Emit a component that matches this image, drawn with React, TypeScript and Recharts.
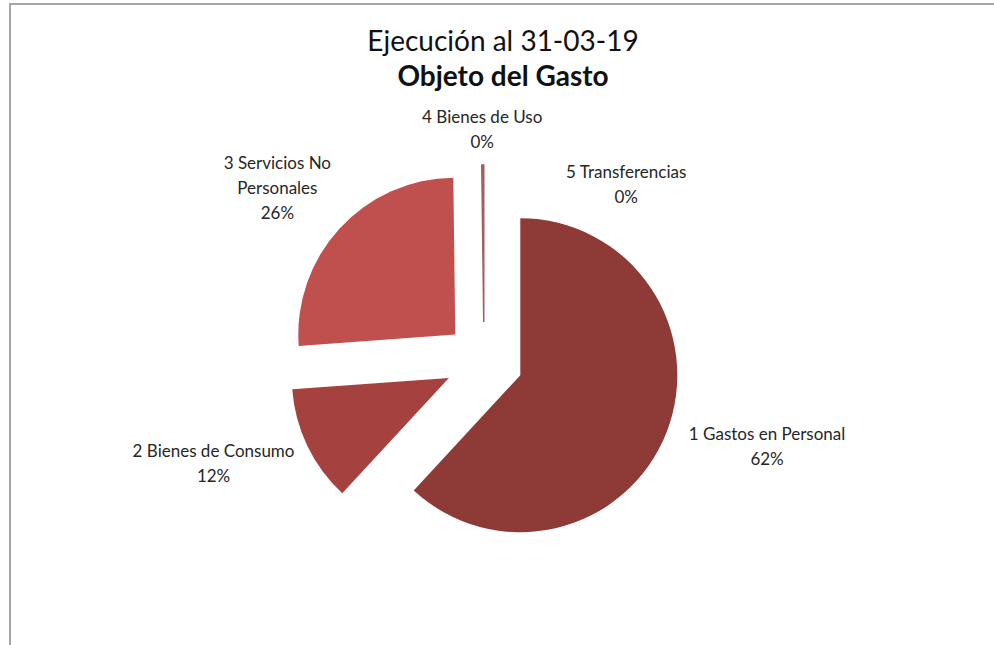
import { PieChart, Pie, Cell } from "recharts"

const names = [
  "1 Gastos en Personal",
  "2 Bienes de Consumo",
  "3 Servicios No Personales",
  "4 Bienes de Uso",
  "5 Transferencias",
]
const labelLines = [
  ["1 Gastos en Personal"],
  ["2 Bienes de Consumo"],
  ["3 Servicios No", "Personales"],
  ["4 Bienes de Uso"],
  ["5 Transferencias"],
]
const values = [62, 12, 26, 0.2, 0]
const colors = ["#8E3A37", "#A5423F", "#C0504D", "#A0605D", "#C0504D"]

const data = names.map((name, i) => ({ name, value: values[i] }))

const RAD = Math.PI / 180
const CX = 484
const CY = 361
const R = 157
const EXPLODE = 39
const FONT = "Lato, 'Noto Sans', sans-serif"

// slice offsets for the exploded look, from each slice's mid angle
const total = values.reduce((a, b) => a + b, 0)
let acc = 0
const offsets = values.map((v) => {
  const mid = 90 - ((acc + v / 2) / total) * 360
  acc += v
  return { dx: EXPLODE * Math.cos(mid * RAD), dy: -EXPLODE * Math.sin(mid * RAD) }
})

function renderLabel(props: any) {
  const { cx, cy, midAngle, outerRadius, percent, index, value } = props
  let ang = midAngle
  if (value === 0) ang -= 30 // zero slice sits on the previous one; Excel nudges it aside
  const ux = Math.cos(-ang * RAD)
  const uy = Math.sin(-ang * RAD)
  const lines = [...labelLines[index], `${Math.round(percent * 100)}%`]
  const lh = 25
  const hh = (lines.length * lh) / 2
  const hw = (Math.max(...lines.map((l) => l.length)) * 7.8) / 2
  const rx = outerRadius + EXPLODE + 30
  const ry = outerRadius + EXPLODE + (lines.length > 2 ? 24 : 12)
  const x = cx + ux * rx + ux * hw - (value === 0 ? 2 : 0)
  const y = cy + uy * ry + uy * hh + (value === 0 ? 24 : 0)
  const top = y - hh + lh / 2
  return (
    <text
      x={x}
      y={top}
      textAnchor="middle"
      dominantBaseline="central"
      fill="#262626"
      fontSize={17}
      fontFamily={FONT}
    >
      {lines.map((l, i) => (
        <tspan key={i} x={x} y={top + i * lh}>
          {l}
        </tspan>
      ))}
    </text>
  )
}

export default function App() {
  return (
    <div style={{ position: "absolute", left: 0, top: 0, width: 994, height: 645, background: "#fff" }}>
      <div
        style={{
          position: "absolute",
          left: 9,
          top: 3,
          right: 0,
          bottom: 0,
          borderTop: "2px solid #A6A6A6",
          borderLeft: "2px solid #A6A6A6",
        }}
      />
      <div
        style={{
          position: "absolute",
          left: 0,
          width: 1006,
          top: 22,
          textAlign: "center",
          fontFamily: FONT,
          color: "#111",
        }}
      >
        <div style={{ fontSize: 28, lineHeight: "36px" }}>Ejecución al 31-03-19</div>
        <div style={{ fontSize: 28, lineHeight: "34px", fontWeight: 700 }}>Objeto del Gasto</div>
      </div>
      <div style={{ position: "absolute", left: 0, top: 0 }}>
        <PieChart width={994} height={645} margin={{ top: 0, right: 0, bottom: 0, left: 0 }}>
          <Pie
            data={data}
            dataKey="value"
            nameKey="name"
            cx={CX}
            cy={CY}
            outerRadius={R}
            startAngle={90}
            endAngle={-270}
            stroke="none"
            label={renderLabel}
            labelLine={false}
            isAnimationActive={false}
          >
            {data.map((d, i) => (
              <Cell
                key={d.name}
                fill={colors[i]}
                stroke={i === 3 ? colors[i] : "none"}
                strokeWidth={i === 3 ? 1.5 : 0}
                transform={`translate(${offsets[i].dx}, ${offsets[i].dy})`}
              />
            ))}
          </Pie>
        </PieChart>
      </div>
    </div>
  )
}
